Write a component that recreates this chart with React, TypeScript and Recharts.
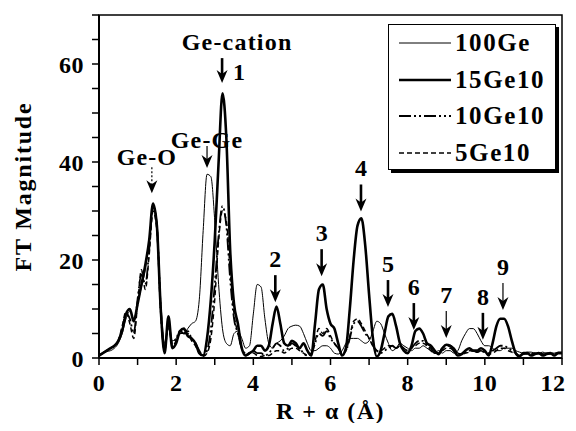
import React from 'react';
import { LineChart, Line, XAxis, YAxis, ReferenceArea, ReferenceDot } from 'recharts';

// R + alpha grid, 0..12 step 0.1
const R = Array.from({ length: 121 }, (_, i) => Math.round(i) / 10);

const ge100 = [
  0.5, 1, 1.3, 1.5, 2, 3, 5, 8, 9.5, 8,
  11, 14.5, 18, 24, 31, 28, 12, 3, 6, 3.5,
  4, 5, 5, 6, 7, 7.5, 12, 26, 37.5, 37,
  28, 15, 6, 3, 2.5, 5, 5.5, 4, 2, 2.5,
  9, 15, 14.5, 8, 3, 2, 3, 3.5, 4.5, 6,
  6.5, 6.7, 6.5, 5, 3, 1.5, 1.5, 2, 2.5, 2.5,
  2, 1, 0.8, 1.5, 3, 4, 4, 4, 3.5, 3,
  3.5, 5.5, 7.5, 7, 5, 3, 1.5, 2, 3, 2.5,
  2, 1.5, 2, 2, 2.5, 2, 1.5, 1, 1.5, 1,
  1.5, 1.5, 1, 1.5, 3.5, 5, 6, 6, 5, 3.5,
  2.5, 2.5, 2, 1.5, 1.5, 2, 2, 2, 1.5, 1.2,
  1, 1.2, 1.2, 1, 1, 1.2, 1, 1, 1, 1.2,
  1.2,
];

const ge15 = [
  0.5, 1, 1.5, 2, 2.5, 3.5, 5.5, 9, 10, 7.5,
  11, 15, 19, 24, 31.5, 27, 10, 1, 8.5, 2,
  3, 5.5, 6, 4.5, 4, 3, 1, 0.5, 4, 12,
  24, 40, 54, 45, 22, 11, 7, 2, 0.5, 1,
  1.5, 2.5, 2.5, 1.5, 2.5, 7, 10.5, 7, 3, 2.5,
  3.5, 3, 2, 3, 1.5, 0.5, 7, 14, 15, 10,
  7, 6, 3, 0.5, 2, 10, 20, 27, 28.5, 23,
  13, 4, 0.3, 1.5, 5, 8.5, 9, 6.5, 3, 1.5,
  1, 2.5, 5.5, 6, 5, 3, 2.5, 1.5, 0.8, 2,
  2.7, 2.5, 1.5, 0.5, 0.8, 1.5, 2, 1.5, 1.5, 2,
  1.5, 0.5, 3, 6.5, 8, 8, 6.5, 3.5, 1, 0.3,
  1, 1, 0.5, 0.8, 1, 0.5, 0.8, 1, 0.5, 1,
  1,
];

const ge10 = [
  0.5, 1, 1.5, 2, 2.5, 3.5, 6, 9, 8, 5,
  12, 17, 15, 22, 31, 27, 10, 2, 7, 3,
  4, 5.5, 5, 5.5, 4, 3, 1.5, 0.5, 1.5, 6,
  15, 25, 31, 27, 16, 8, 5, 2, 1, 1,
  1.5, 1, 1, 0.5, 1, 2, 3, 2.5, 1.5, 2,
  3, 2.5, 2, 1, 0.5, 0.8, 3, 5, 4.5, 5.5,
  4, 3, 2, 1, 1.5, 4, 7, 7.5, 6.5, 5,
  4, 2.5, 1.5, 1, 1.5, 2, 2.5, 2, 2.5, 2,
  1.5, 2, 3, 3.5, 3.5, 2.5, 2, 1, 1, 2,
  2.5, 2.5, 2, 1, 0.8, 1.2, 1.5, 1.5, 1.2, 1.5,
  1.2, 1, 1.5, 2, 2.5, 2.5, 2, 1.5, 1, 0.5,
  0.8, 1, 0.8, 0.8, 1, 0.8, 0.8, 1, 0.8, 1,
  1,
];

const ge5 = [
  0.5, 1, 1.5, 2, 2.5, 3.5, 6.5, 9.5, 7, 4,
  11, 18, 14, 21, 30, 26, 9, 1.5, 6.5, 2.5,
  3.5, 5, 5, 5, 3.5, 2.5, 1, 0.3, 1, 4,
  12, 24, 30, 28, 18, 9, 5, 2, 0.5, 0.8,
  1, 0.5, 0.3, 0.5, 0.5, 1, 1.5, 1.5, 1, 1.5,
  2, 2, 1.5, 1, 0.5, 1, 3.5, 6, 5, 6,
  4.5, 3, 2, 1, 1.5, 4.5, 7.5, 8, 7, 5.5,
  4, 2.5, 1.5, 1.5, 2, 2.5, 2.5, 2, 2.5, 2,
  1.5, 2, 2.5, 3, 3, 2.5, 1.5, 1, 1, 1.5,
  2, 2, 1.5, 1, 0.8, 1, 1.2, 1.5, 1.5, 1.5,
  1, 0.8, 1, 1.5, 2, 2, 1.5, 1.2, 0.8, 0.5,
  0.8, 0.8, 0.8, 1, 0.8, 0.8, 1, 0.8, 0.8, 1,
  1,
];

// peak annotations: arrow tip position in data units
const peakLabels = ['1', '2', '3', '4', '5', '6', '7', '8', '9'];
const peakX = [3.19, 4.57, 5.77, 6.79, 7.49, 8.16, 9.0, 9.95, 10.47];
const peakY = [56.1, 11.4, 16.7, 29.9, 10.4, 5.7, 4.1, 3.7, 9.8];
const peakThick = [true, true, true, true, true, true, false, true, false];

const yTicks = [0, 5, 10, 15, 20, 25, 30, 35, 40, 45, 50, 55, 60, 65, 70];
const xTicks = [0, 1, 2, 3, 4, 5, 6, 7, 8, 9, 10, 11, 12];

const series = [
  { key: 'ge100', name: '100Ge', width: 1, dash: undefined },
  { key: 'ge15', name: '15Ge10', width: 2.6, dash: undefined },
  { key: 'ge10', name: '10Ge10', width: 1.8, dash: '12 3 2 3 2 3' },
  { key: 'ge5', name: '5Ge10', width: 1.5, dash: '5 3' },
];

const rows = R.map((x, i) => ({ x, ge100: ge100[i], ge15: ge15[i], ge10: ge10[i], ge5: ge5[i] }));

const FONT = '"Liberation Serif", "Times New Roman", serif';
const txt = { fontFamily: FONT, fontWeight: 700, fill: '#000' };

function XTick({ x, y, payload }: any) {
  const v = payload.value;
  if (v % 2 !== 0) return null;
  // last label is pulled in so it stays inside the figure
  const dx = v === 12 ? -9 : 0;
  return (
    <text x={x + dx} y={y} dy="0.71em" textAnchor="middle" {...txt} fontSize={24} letterSpacing={0.5}>{v}</text>
  );
}

function Arrow({ cx, cy, len, thick, dotted }: any) {
  const w = thick ? 2.6 : 1.2;
  return (
    <g>
      <line x1={cx} y1={cy - len} x2={cx} y2={cy - 8} stroke="#000" strokeWidth={w}
        strokeDasharray={dotted ? '2 2' : undefined} />
      <polygon points={`${cx},${cy} ${cx - 5.5},${cy - 13} ${cx},${cy - 9} ${cx + 5.5},${cy - 13}`} fill="#000" />
    </g>
  );
}

function LegendBox() {
  return (
    <div style={{
      position: 'absolute', left: 380, top: 16,
      width: 168, height: 146, border: '1.5px solid #000', boxShadow: '3px 3px 0 #000',
      background: '#fff', boxSizing: 'border-box',
    }}>
      {series.map((s, i) => (
        <div key={s.key} style={{ position: 'absolute', left: 10, top: 3 + i * 36.5, height: 30, display: 'flex', alignItems: 'center' }}>
          <svg width={52} height={10}>
            <line x1={0} y1={5} x2={52} y2={5} stroke="#000" strokeWidth={s.width} strokeDasharray={s.dash} />
          </svg>
          <span style={{ fontFamily: FONT, fontWeight: 700, fontSize: 25, letterSpacing: 1.6, marginLeft: 4 }}>{s.name}</span>
        </div>
      ))}
    </div>
  );
}

export default function App() {
  return (
    <div style={{ position: 'relative', width: 560, height: 415 }}>
      <LineChart width={560} height={415} data={rows} margin={{ top: 7, right: 6, bottom: 0, left: 0 }}>
        <XAxis
          dataKey="x"
          type="number"
          domain={[0, 12]}
          ticks={xTicks}
          interval={0}
          height={65}
          tickSize={7}
          tickMargin={9}
          axisLine={{ stroke: '#000', strokeWidth: 2 }}
          tickLine={{ stroke: '#000', strokeWidth: 1.5 }}
          tick={<XTick />}
          label={{ value: 'R + α (Å)', position: 'insideBottom', offset: 4, style: { ...txt, fontSize: 24, letterSpacing: 1.5 } }}
        />
        <YAxis
          type="number"
          domain={[0, 70]}
          ticks={yTicks}
          interval={0}
          tickFormatter={(v: number) => (v % 20 === 0 ? String(v) : '')}
          width={91}
          tickSize={7}
          tickMargin={8}
          axisLine={{ stroke: '#000', strokeWidth: 2 }}
          tickLine={{ stroke: '#000', strokeWidth: 1.5 }}
          tick={{ ...txt, fontSize: 24, letterSpacing: 0.5 }}
          label={{ value: 'FT Magnitude', angle: -90, position: 'insideLeft', offset: 14, style: { ...txt, fontSize: 24, textAnchor: 'middle', letterSpacing: 1.8 } }}
        />
        <ReferenceArea x1={0} x2={12} y1={0} y2={70} fill="none" stroke="#000" strokeWidth={1.5} />
        {series.map((s) => (
          <Line
            key={s.key}
            dataKey={s.key}
            name={s.name}
            type="monotone"
            stroke="#000"
            strokeWidth={s.width}
            strokeDasharray={s.dash}
            dot={false}
            isAnimationActive={false}
          />
        ))}
        <ReferenceDot x={1.37} y={33.6} r={0} shape={(p: any) => (
          <g>
            <Arrow cx={p.cx} cy={p.cy} len={26} dotted />
            <text x={p.cx - 5} y={p.cy - 28} textAnchor="middle" {...txt} fontSize={24} letterSpacing={1}>Ge-O</text>
          </g>
        )} />
        <ReferenceDot x={2.8} y={38.8} r={0} shape={(p: any) => (
          <g>
            <Arrow cx={p.cx} cy={p.cy} len={22} />
            <text x={p.cx} y={p.cy - 20} textAnchor="middle" {...txt} fontSize={24} letterSpacing={1.2}>Ge-Ge</text>
          </g>
        )} />
        {peakLabels.map((lab, i) => (
          <ReferenceDot key={lab} x={peakX[i]} y={peakY[i]} r={0} shape={(p: any) => (
            <g>
              <Arrow cx={p.cx} cy={p.cy} len={i === 0 ? 25 : 27} thick={peakThick[i]} />
              {i === 0 ? (
                <>
                  <text x={p.cx + 17} y={p.cy - 3} textAnchor="middle" {...txt} fontSize={24}>1</text>
                  <text x={p.cx + 15} y={p.cy - 33} textAnchor="middle" {...txt} fontSize={24} letterSpacing={1.2}>Ge-cation</text>
                </>
              ) : (
                <text x={p.cx} y={p.cy - 35} textAnchor="middle" {...txt} fontSize={24}>{lab}</text>
              )}
            </g>
          )} />
        ))}
      </LineChart>
      <LegendBox />
    </div>
  );
}
